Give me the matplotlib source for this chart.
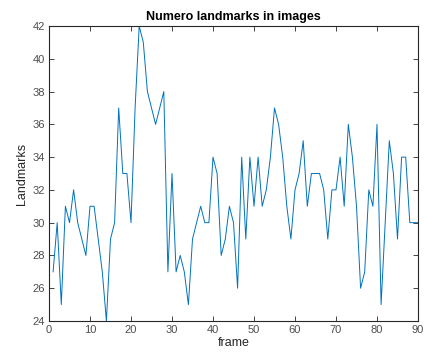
import matplotlib
matplotlib.use("Agg")
import matplotlib.pyplot as plt
import numpy as np

# landmark count per frame (frames 1..90)
frames = np.arange(1, 91)
landmarks = [27, 30, 25, 31, 30, 32, 30, 29, 28, 31,
             31, 29, 27, 24, 29, 30, 37, 33, 33, 30,
             37, 42, 41, 38, 37, 36, 37, 38, 27, 33,
             27, 28, 27, 25, 29, 30, 31, 30, 30, 34,
             33, 28, 29, 31, 30, 26, 34, 29, 34, 31,
             34, 31, 32, 34, 37, 36, 34, 31, 29, 32,
             33, 35, 31, 33, 33, 33, 32, 29, 32, 32,
             34, 31, 36, 34, 31, 26, 27, 32, 31, 36,
             25, 30, 35, 33, 29, 34, 34, 30, 30, 30]

xticks = list(range(0, 91, 10))
yticks = list(range(24, 43, 2))

plt.rcParams['font.family'] = ['Liberation Sans', 'DejaVu Sans']

fig = plt.figure(figsize=(4.24, 3.56), dpi=100)
ax = fig.add_axes([49 / 424, 35 / 356, 369 / 424, 295 / 356])

ax.plot(frames, landmarks, color='#0072BD', linewidth=0.7)

ax.set_xlim(0, 90)
ax.set_ylim(24, 42)
ax.set_xticks(xticks)
ax.set_yticks(yticks)

grey = '#262626'
for s in ax.spines.values():
    s.set_color(grey)
    s.set_linewidth(0.8)
ax.tick_params(direction='in', length=3.5, width=0.6, colors=grey,
               labelsize=8, top=True, right=True, pad=3)
for lbl in ax.get_xticklabels() + ax.get_yticklabels():
    lbl.set_color('#4d4d4d')

ax.set_title('Numero landmarks in images', fontsize=9, fontweight='bold', pad=4)
ax.set_xlabel('frame', fontsize=9, color=grey, labelpad=1)
ax.set_ylabel('Landmarks', fontsize=9, color=grey, labelpad=3)

fig.savefig('out.png', dpi=100, facecolor='white')
